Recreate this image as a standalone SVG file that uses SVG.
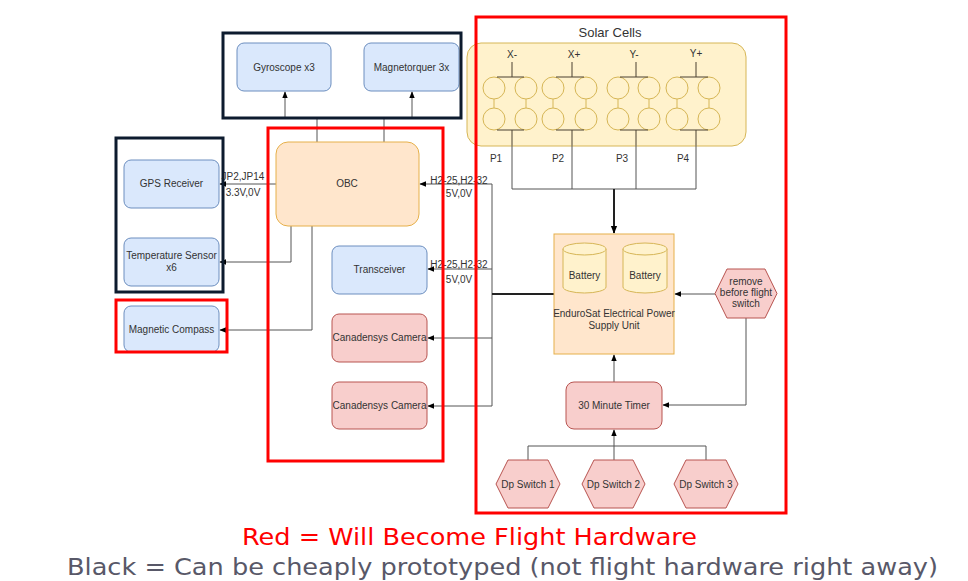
<svg xmlns="http://www.w3.org/2000/svg" width="968" height="581" viewBox="0 0 968 581">
<defs>
<style>
text{font-family:"Liberation Sans",Arial,sans-serif;fill:#333;font-size:10px}
.blue{fill:#dae8fc;stroke:#6c8ebf;stroke-width:1}
.org{fill:#ffe6cc;stroke:#d79b00;stroke-width:1}
.yel{fill:#fff2cc;stroke:#d6b656;stroke-width:1}
.pink{fill:#f8cecc;stroke:#b85450;stroke-width:1}
.rbox{fill:none;stroke:#ff0000;stroke-width:3}
.kbox{fill:none;stroke:#0d1b2e;stroke-width:3}
.ln{fill:none;stroke:#555;stroke-width:1}
.lnk{fill:none;stroke:#222;stroke-width:2}
.br{fill:none;stroke:#4a4030;stroke-width:1}
.c{text-anchor:middle}
.leg{font-family:"DejaVu Sans",Verdana,sans-serif;font-size:23px}
</style>
<marker id="ah" viewBox="0 0 10 10" refX="9" refY="5" markerWidth="7" markerHeight="7" orient="auto" markerUnits="userSpaceOnUse">
<path d="M0,1 L10,5 L0,9 Z" fill="#000"/>
</marker>
<marker id="ahk" viewBox="0 0 10 10" refX="9" refY="5" markerWidth="8" markerHeight="8" orient="auto" markerUnits="userSpaceOnUse">
<path d="M0,1 L10,5 L0,9 Z" fill="#000"/>
</marker>
</defs>
<rect width="968" height="581" fill="#fff"/>

<g id="solar-cells">
<rect x="467" y="43" width="279" height="103" rx="14" class="yel"/>
<text x="610" y="37" class="c" style="font-size:13px">Solar Cells</text>
<g id="cells">
<circle cx="494" cy="88" r="11" class="yel"/><circle cx="526" cy="88" r="11" class="yel"/>
<circle cx="494" cy="119" r="11" class="yel"/><circle cx="526" cy="119" r="11" class="yel"/>
<line x1="494" y1="99" x2="494" y2="108" stroke="#d6b656"/><line x1="526" y1="99" x2="526" y2="108" stroke="#d6b656"/>
<circle cx="553" cy="88" r="11" class="yel"/><circle cx="586" cy="88" r="11" class="yel"/>
<circle cx="553" cy="119" r="11" class="yel"/><circle cx="586" cy="119" r="11" class="yel"/>
<line x1="553" y1="99" x2="553" y2="108" stroke="#d6b656"/><line x1="586" y1="99" x2="586" y2="108" stroke="#d6b656"/>
<circle cx="618" cy="88" r="11" class="yel"/><circle cx="649" cy="88" r="11" class="yel"/>
<circle cx="618" cy="119" r="11" class="yel"/><circle cx="649" cy="119" r="11" class="yel"/>
<line x1="618" y1="99" x2="618" y2="108" stroke="#d6b656"/><line x1="649" y1="99" x2="649" y2="108" stroke="#d6b656"/>
<circle cx="677" cy="88" r="11" class="yel"/><circle cx="709" cy="88" r="11" class="yel"/>
<circle cx="677" cy="119" r="11" class="yel"/><circle cx="709" cy="119" r="11" class="yel"/>
<line x1="677" y1="99" x2="677" y2="108" stroke="#d6b656"/><line x1="709" y1="99" x2="709" y2="108" stroke="#d6b656"/>
</g>
<g id="brackets">
<path d="M512,62 V77 M497,77 H524 M512,130 V145 M497,130 H524" class="br"/>
<path d="M572,62 V77 M556,77 H584 M572,130 V145 M556,130 H584" class="br"/>
<path d="M636,62 V77 M620,77 H648 M636,130 V145 M620,130 H648" class="br"/>
<path d="M696,62 V77 M680,77 H708 M696,130 V145 M680,130 H708" class="br"/>
</g>
<text x="512" y="58" class="c">X-</text>
<text x="574" y="58" class="c">X+</text>
<text x="634" y="58" class="c">Y-</text>
<text x="696" y="57" class="c">Y+</text>
<text x="496" y="162" class="c">P1</text>
<text x="558" y="162" class="c">P2</text>
<text x="622" y="162" class="c">P3</text>
<text x="683" y="162" class="c">P4</text>
</g>

<g id="connectors">
<line x1="317" y1="142" x2="317" y2="118" class="ln"/>
<line x1="384" y1="142" x2="384" y2="118" class="ln"/>
<line x1="285" y1="118" x2="285" y2="92" class="ln" marker-end="url(#ah)"/>
<line x1="412" y1="118" x2="412" y2="92" class="ln" marker-end="url(#ah)"/>
<line x1="276" y1="184" x2="220" y2="184" class="ln" marker-end="url(#ah)"/>
<polyline points="291,226 291,262 220,262" class="ln" marker-end="url(#ah)"/>
<polyline points="312,226 312,330 220,330" class="ln" marker-end="url(#ah)"/>
<line x1="492" y1="184" x2="492" y2="406" class="ln"/>
<line x1="492" y1="184" x2="420" y2="184" class="ln" marker-end="url(#ah)"/>
<line x1="492" y1="269" x2="428" y2="269" class="ln" marker-end="url(#ah)"/>
<line x1="492" y1="338" x2="428" y2="338" class="ln" marker-end="url(#ah)"/>
<line x1="492" y1="406" x2="428" y2="406" class="ln" marker-end="url(#ah)"/>
<line x1="554" y1="294" x2="492" y2="294" class="lnk"/>
<path d="M512,145 V189 M572,145 V189 M636,145 V189 M696,145 V189 M512,189 H696" class="ln"/>
<line x1="614" y1="189" x2="614" y2="233" class="lnk" marker-end="url(#ahk)"/>
<line x1="715" y1="294" x2="675" y2="294" class="ln" marker-end="url(#ah)"/>
<polyline points="746,318 746,405 663,405" class="ln" marker-end="url(#ah)"/>
<line x1="614" y1="382" x2="614" y2="355" class="ln" marker-end="url(#ah)"/>
<path d="M528,460 V446 H706 V460 M614,460 V446" class="ln"/>
<line x1="614" y1="446" x2="614" y2="430" class="ln" marker-end="url(#ah)"/>
<text x="243" y="180" class="c">JP2,JP14</text>
<text x="243" y="196" class="c">3.3V,0V</text>
<text x="459" y="184" class="c">H2-25,H2-32</text>
<text x="459" y="197" class="c">5V,0V</text>
<text x="459" y="268" class="c">H2-25,H2-32</text>
<text x="459" y="283" class="c">5V,0V</text>
</g>

<g id="gyroscope"><rect x="237" y="43" width="94" height="48" rx="7" class="blue"/><text x="284" y="71" class="c">Gyroscope x3</text></g>
<g id="magnetorquer"><rect x="364" y="43" width="95" height="48" rx="7" class="blue"/><text x="411.5" y="71" class="c">Magnetorquer 3x</text></g>
<g id="obc"><rect x="276" y="142" width="143" height="84" rx="12" class="org" style="stroke:#e6b04a"/><text x="347" y="187" class="c">OBC</text></g>
<g id="gps"><rect x="124" y="160" width="95" height="48" rx="7" class="blue"/><text x="171.5" y="187" class="c">GPS Receiver</text></g>
<g id="temperature-sensor"><rect x="124" y="238" width="95" height="48" rx="7" class="blue"/><text x="171.5" y="259" class="c">Temperature Sensor</text><text x="171.5" y="271" class="c">x6</text></g>
<g id="magnetic-compass"><rect x="124" y="306" width="95" height="46" rx="7" class="blue"/><text x="171.5" y="333" class="c">Magnetic Compass</text></g>
<g id="transceiver"><rect x="332" y="246" width="95" height="48" rx="7" class="blue"/><text x="379.5" y="273" class="c">Transceiver</text></g>
<g id="camera-1"><rect x="332" y="314" width="95" height="48" rx="7" class="pink"/><text x="379.5" y="341" class="c">Canadensys Camera</text></g>
<g id="camera-2"><rect x="332" y="382" width="95" height="47" rx="7" class="pink"/><text x="379.5" y="409" class="c">Canadensys Camera</text></g>

<g id="eps">
<rect x="554" y="234" width="120" height="120" class="org" style="stroke:#e6b04a"/>
<path d="M563,249 a21.5,6 0 0 1 43,0 v38 a21.5,6 0 0 1 -43,0 z" class="yel"/>
<path d="M563,249 a21.5,6 0 0 0 43,0" class="yel" fill="none"/>
<text x="584.5" y="279" class="c">Battery</text>
<path d="M623,249 a22,6 0 0 1 44,0 v38 a22,6 0 0 1 -44,0 z" class="yel"/>
<path d="M623,249 a22,6 0 0 0 44,0" class="yel" fill="none"/>
<text x="645" y="279" class="c">Battery</text>
<text x="614" y="317" class="c">EnduroSat Electrical Power</text>
<text x="614" y="329" class="c">Supply Unit</text>
</g>
<g id="remove-before-flight">
<polygon points="715,293.5 727,269 765,269 777,293.5 765,318 727,318" class="pink"/>
<text x="746" y="285" class="c">remove</text>
<text x="746" y="296" class="c">before flight</text>
<text x="746" y="307" class="c">switch</text>
</g>
<g id="timer"><rect x="566" y="382" width="96" height="47" rx="8" class="pink"/><text x="614" y="409" class="c">30 Minute Timer</text></g>
<g id="dp-switch-1"><polygon points="496,484 508,460 548,460 560,484 548,508 508,508" class="pink"/><text x="528" y="488" class="c">Dp Switch 1</text></g>
<g id="dp-switch-2"><polygon points="582,484 594,460 633,460 645,484 633,508 594,508" class="pink"/><text x="613.5" y="488" class="c">Dp Switch 2</text></g>
<g id="dp-switch-3"><polygon points="674,484 686,460 726,460 738,484 726,508 686,508" class="pink"/><text x="706" y="488" class="c">Dp Switch 3</text></g>

<g id="groups">
<rect x="223" y="33" width="238" height="85" class="kbox"/>
<rect x="116" y="138" width="107" height="154" class="kbox"/>
<rect x="116" y="300" width="111" height="52" class="rbox"/>
<rect x="268" y="128" width="175" height="333" class="rbox"/>
<rect x="476" y="17" width="310" height="496" class="rbox"/>
</g>

<g id="legend">
<text x="242" y="545" textLength="455" lengthAdjust="spacingAndGlyphs" class="leg" style="fill:#ff0000">Red = Will Become Flight Hardware</text>
<text x="67" y="575" textLength="871" lengthAdjust="spacingAndGlyphs" class="leg" style="fill:#585868">Black = Can be cheaply prototyped (not flight hardware right away)</text>
</g>
</svg>
